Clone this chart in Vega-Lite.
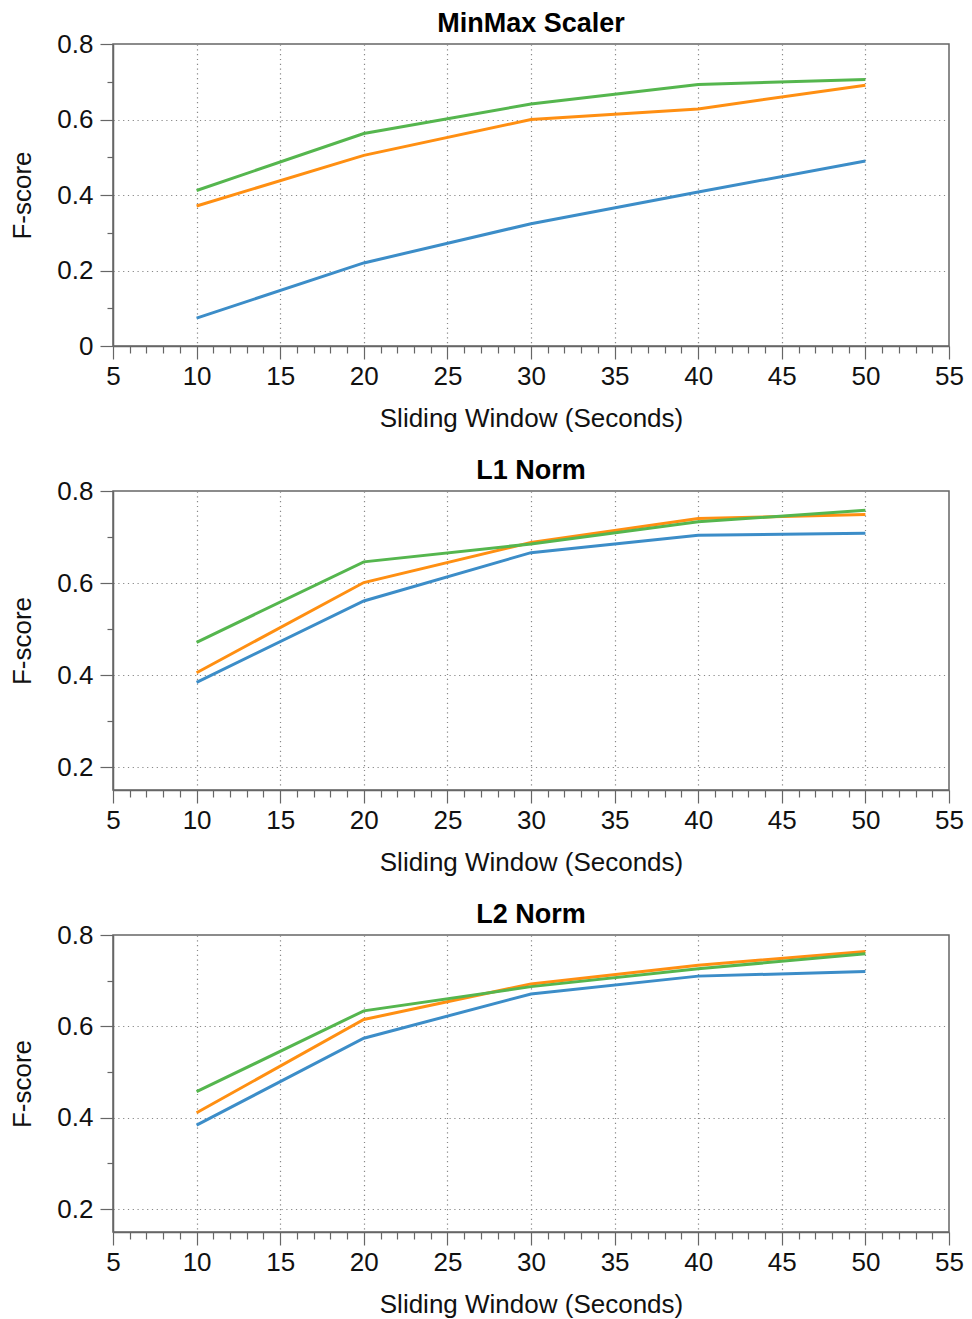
{
  "$schema": "https://vega.github.io/schema/vega-lite/v6.json",
  "padding": {"left": 9, "top": 9, "right": 5, "bottom": 0},
  "background": "white",
  "datasets": {
    "scores": [
      {"panel": "MinMax Scaler", "series": "S1", "window": 10, "fscore": 0.074},
      {"panel": "MinMax Scaler", "series": "S1", "window": 20, "fscore": 0.220},
      {"panel": "MinMax Scaler", "series": "S1", "window": 30, "fscore": 0.324},
      {"panel": "MinMax Scaler", "series": "S1", "window": 40, "fscore": 0.408},
      {"panel": "MinMax Scaler", "series": "S1", "window": 50, "fscore": 0.490},
      {"panel": "MinMax Scaler", "series": "S2", "window": 10, "fscore": 0.371},
      {"panel": "MinMax Scaler", "series": "S2", "window": 20, "fscore": 0.505},
      {"panel": "MinMax Scaler", "series": "S2", "window": 30, "fscore": 0.600},
      {"panel": "MinMax Scaler", "series": "S2", "window": 40, "fscore": 0.628},
      {"panel": "MinMax Scaler", "series": "S2", "window": 50, "fscore": 0.691},
      {"panel": "MinMax Scaler", "series": "S3", "window": 10, "fscore": 0.412},
      {"panel": "MinMax Scaler", "series": "S3", "window": 20, "fscore": 0.563},
      {"panel": "MinMax Scaler", "series": "S3", "window": 30, "fscore": 0.641},
      {"panel": "MinMax Scaler", "series": "S3", "window": 40, "fscore": 0.693},
      {"panel": "MinMax Scaler", "series": "S3", "window": 50, "fscore": 0.706},
      {"panel": "L1 Norm", "series": "S1", "window": 10, "fscore": 0.384},
      {"panel": "L1 Norm", "series": "S1", "window": 20, "fscore": 0.561},
      {"panel": "L1 Norm", "series": "S1", "window": 30, "fscore": 0.666},
      {"panel": "L1 Norm", "series": "S1", "window": 40, "fscore": 0.704},
      {"panel": "L1 Norm", "series": "S1", "window": 50, "fscore": 0.708},
      {"panel": "L1 Norm", "series": "S2", "window": 10, "fscore": 0.405},
      {"panel": "L1 Norm", "series": "S2", "window": 20, "fscore": 0.601},
      {"panel": "L1 Norm", "series": "S2", "window": 30, "fscore": 0.688},
      {"panel": "L1 Norm", "series": "S2", "window": 40, "fscore": 0.740},
      {"panel": "L1 Norm", "series": "S2", "window": 50, "fscore": 0.749},
      {"panel": "L1 Norm", "series": "S3", "window": 10, "fscore": 0.471},
      {"panel": "L1 Norm", "series": "S3", "window": 20, "fscore": 0.646},
      {"panel": "L1 Norm", "series": "S3", "window": 30, "fscore": 0.685},
      {"panel": "L1 Norm", "series": "S3", "window": 40, "fscore": 0.733},
      {"panel": "L1 Norm", "series": "S3", "window": 50, "fscore": 0.758},
      {"panel": "L2 Norm", "series": "S1", "window": 10, "fscore": 0.384},
      {"panel": "L2 Norm", "series": "S1", "window": 20, "fscore": 0.574},
      {"panel": "L2 Norm", "series": "S1", "window": 30, "fscore": 0.671},
      {"panel": "L2 Norm", "series": "S1", "window": 40, "fscore": 0.710},
      {"panel": "L2 Norm", "series": "S1", "window": 50, "fscore": 0.720},
      {"panel": "L2 Norm", "series": "S2", "window": 10, "fscore": 0.411},
      {"panel": "L2 Norm", "series": "S2", "window": 20, "fscore": 0.615},
      {"panel": "L2 Norm", "series": "S2", "window": 30, "fscore": 0.693},
      {"panel": "L2 Norm", "series": "S2", "window": 40, "fscore": 0.734},
      {"panel": "L2 Norm", "series": "S2", "window": 50, "fscore": 0.764},
      {"panel": "L2 Norm", "series": "S3", "window": 10, "fscore": 0.457},
      {"panel": "L2 Norm", "series": "S3", "window": 20, "fscore": 0.634},
      {"panel": "L2 Norm", "series": "S3", "window": 30, "fscore": 0.687},
      {"panel": "L2 Norm", "series": "S3", "window": 40, "fscore": 0.726},
      {"panel": "L2 Norm", "series": "S3", "window": 50, "fscore": 0.759}
    ]
  },
  "config": {
    "font": "Liberation Sans",
    "view": {"stroke": "#666", "strokeWidth": 1.5},
    "title": {"fontSize": 27, "fontWeight": "bold", "color": "#000", "font": "Liberation Sans", "offset": -7, "anchor": "middle"},
    "axis": {
      "labelFont": "Liberation Sans", "titleFont": "Liberation Sans",
      "labelFontSize": 26, "titleFontSize": 26, "titleFontWeight": "normal",
      "labelColor": "#111", "titleColor": "#111",
      "domainColor": "#666", "domainWidth": 1.5, "tickColor": "#666", "tickWidth": 1.2,
      "gridColor": "#888", "gridDash": [1.2, 3.6], "gridWidth": 1.2,
      "labelOverlap": false, "labelFlush": false
    },
    "axisX": {"labelPadding": 4, "titlePadding": 16},
    "axisY": {"labelPadding": 7, "titlePadding": 21},
    "line": {"strokeWidth": 3}
  },
  "spacing": 24,
  "vconcat": [
    {
      "title": "MinMax Scaler",
      "width": 836, "height": 302,
      "data": {"name": "scores"},
      "transform": [{"filter": "datum.panel === 'MinMax Scaler'"}],
      "mark": {"type": "line"},
      "encoding": {
        "x": {"field": "window", "type": "quantitative", "scale": {"domain": [5, 55], "nice": false},
          "axis": {"title": "Sliding Window (Seconds)",
            "values": [5,6,7,8,9,10,11,12,13,14,15,16,17,18,19,20,21,22,23,24,25,26,27,28,29,30,31,32,33,34,35,36,37,38,39,40,41,42,43,44,45,46,47,48,49,50,51,52,53,54,55],
            "labelExpr": "datum.value % 5 === 0 ? datum.label : ''",
            "tickSize": {"condition": {"test": "datum.value % 5 === 0", "value": 13}, "value": 7},
            "gridOpacity": {"condition": {"test": "datum.value % 5 === 0 && datum.value > 5 && datum.value < 55", "value": 1}, "value": 0}}},
        "y": {"field": "fscore", "type": "quantitative", "scale": {"domain": [0, 0.8], "nice": false, "zero": false},
          "axis": {"title": "F-score",
            "values": [0, 0.1, 0.2, 0.3, 0.4, 0.5, 0.6, 0.7, 0.8],
            "labelExpr": "round(datum.value * 10) % 2 === 0 ? (datum.value === 0 ? '0' : format(datum.value, '.1f')) : ''",
            "tickSize": {"condition": {"test": "round(datum.value * 10) % 2 === 0", "value": 13}, "value": 6},
            "gridOpacity": {"condition": {"test": "round(datum.value * 10) % 2 === 0 && datum.value > 0.05 && datum.value < 0.75", "value": 1}, "value": 0}}},
        "color": {"field": "series", "type": "nominal", "legend": null,
          "scale": {"domain": ["S1", "S2", "S3"], "range": ["#3c8dc8", "#ff8f12", "#55b64e"]}}
      }
    },
    {
      "title": "L1 Norm",
      "width": 836, "height": 299,
      "data": {"name": "scores"},
      "transform": [{"filter": "datum.panel === 'L1 Norm'"}],
      "mark": {"type": "line"},
      "encoding": {
        "x": {"field": "window", "type": "quantitative", "scale": {"domain": [5, 55], "nice": false},
          "axis": {"title": "Sliding Window (Seconds)",
            "values": [5,6,7,8,9,10,11,12,13,14,15,16,17,18,19,20,21,22,23,24,25,26,27,28,29,30,31,32,33,34,35,36,37,38,39,40,41,42,43,44,45,46,47,48,49,50,51,52,53,54,55],
            "labelExpr": "datum.value % 5 === 0 ? datum.label : ''",
            "tickSize": {"condition": {"test": "datum.value % 5 === 0", "value": 13}, "value": 7},
            "gridOpacity": {"condition": {"test": "datum.value % 5 === 0 && datum.value > 5 && datum.value < 55", "value": 1}, "value": 0}}},
        "y": {"field": "fscore", "type": "quantitative", "scale": {"domain": [0.15, 0.8], "nice": false, "zero": false},
          "axis": {"title": "F-score",
            "values": [0.2, 0.3, 0.4, 0.5, 0.6, 0.7, 0.8],
            "labelExpr": "round(datum.value * 10) % 2 === 0 ? format(datum.value, '.1f') : ''",
            "tickSize": {"condition": {"test": "round(datum.value * 10) % 2 === 0", "value": 13}, "value": 6},
            "gridOpacity": {"condition": {"test": "round(datum.value * 10) % 2 === 0 && datum.value < 0.75", "value": 1}, "value": 0}}},
        "color": {"field": "series", "type": "nominal", "legend": null,
          "scale": {"domain": ["S1", "S2", "S3"], "range": ["#3c8dc8", "#ff8f12", "#55b64e"]}}
      }
    },
    {
      "title": "L2 Norm",
      "width": 836, "height": 297,
      "data": {"name": "scores"},
      "transform": [{"filter": "datum.panel === 'L2 Norm'"}],
      "mark": {"type": "line"},
      "encoding": {
        "x": {"field": "window", "type": "quantitative", "scale": {"domain": [5, 55], "nice": false},
          "axis": {"title": "Sliding Window (Seconds)",
            "values": [5,6,7,8,9,10,11,12,13,14,15,16,17,18,19,20,21,22,23,24,25,26,27,28,29,30,31,32,33,34,35,36,37,38,39,40,41,42,43,44,45,46,47,48,49,50,51,52,53,54,55],
            "labelExpr": "datum.value % 5 === 0 ? datum.label : ''",
            "tickSize": {"condition": {"test": "datum.value % 5 === 0", "value": 13}, "value": 7},
            "gridOpacity": {"condition": {"test": "datum.value % 5 === 0 && datum.value > 5 && datum.value < 55", "value": 1}, "value": 0}}},
        "y": {"field": "fscore", "type": "quantitative", "scale": {"domain": [0.15, 0.8], "nice": false, "zero": false},
          "axis": {"title": "F-score",
            "values": [0.2, 0.3, 0.4, 0.5, 0.6, 0.7, 0.8],
            "labelExpr": "round(datum.value * 10) % 2 === 0 ? format(datum.value, '.1f') : ''",
            "tickSize": {"condition": {"test": "round(datum.value * 10) % 2 === 0", "value": 13}, "value": 6},
            "gridOpacity": {"condition": {"test": "round(datum.value * 10) % 2 === 0 && datum.value < 0.75", "value": 1}, "value": 0}}},
        "color": {"field": "series", "type": "nominal", "legend": null,
          "scale": {"domain": ["S1", "S2", "S3"], "range": ["#3c8dc8", "#ff8f12", "#55b64e"]}}
      }
    }
  ]
}
